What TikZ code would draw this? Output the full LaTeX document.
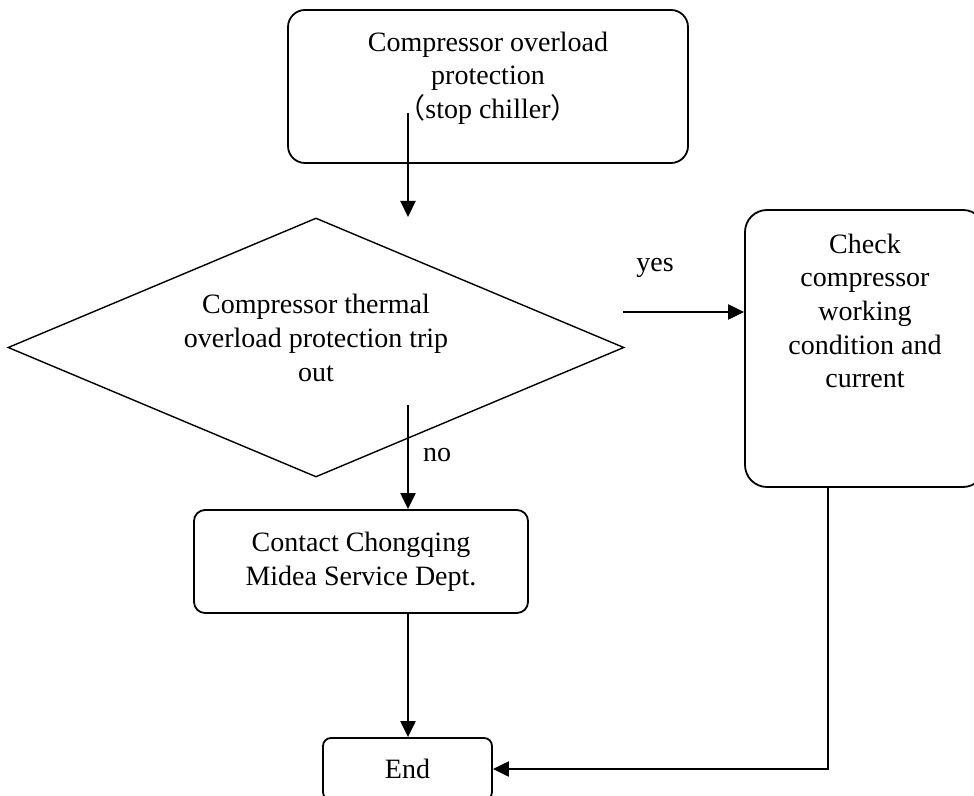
\documentclass[tikz,border=0pt]{standalone}
\usepackage{fontspec}
\setmainfont{Liberation Serif}
\newfontfamily\cjk{Noto Sans CJK SC}
\usetikzlibrary{positioning,shapes.geometric,arrows.meta,calc}

\begin{document}
\begin{tikzpicture}[
    x=0.5pt, y=-0.5pt,
    procbox/.style={draw, line width=0.9pt, inner sep=0pt},
    decbox/.style={diamond, draw, line width=0.7pt, inner sep=0pt},
    flow/.style={-{Triangle[length=8pt,width=7.5pt]}, line width=1.1pt},
    txt/.style={font=\fontsize{14}{16.8}\selectfont, align=center},
]
\useasboundingbox (0,0) rectangle (974,796);
\node[procbox, rounded corners=8.5pt, minimum width=200pt, minimum height=76.5pt] (prot) at (488,86.5) {};
\node[txt] (protlbl) at (488,78) {Compressor overload\\protection\\{\cjk （}stop chiller{\cjk ）}};
\node[decbox, minimum width=308pt, minimum height=129.5pt] (trip) at (316,347.5) {};
\node[txt] (triplbl) at (316,338) {Compressor thermal\\overload protection trip\\out};
\node[procbox, rounded corners=11pt, minimum width=120pt, minimum height=138.5pt] (check) at (865,348.5) {};
\node[txt] (checklbl) at (865,311) {Check\\compressor\\working\\condition and\\current};
\node[procbox, rounded corners=5.5pt, minimum width=167pt, minimum height=51.5pt, txt] (contact) at (361,561.5) {Contact Chongqing\\Midea Service Dept.};
\node[procbox, rounded corners=4pt, minimum width=84.5pt, minimum height=31pt, txt] (finish) at (407.5,769) {End};
\node[txt] (yeslbl) at (655,268) {yes};
\node[txt] (nolbl) at (437,455) {no};
\coordinate (protout) at (408,113);
\coordinate (tripin) at (408,217);
\coordinate (noout) at (408,405);
\coordinate (yesout) at (623,312);
\coordinate (checkout) at (828,487);
\draw[flow] (protout) -- (tripin);
\draw[flow] (yesout) -- (yesout -| check.west);
\draw[flow] (noout) -- (noout |- contact.north);
\draw[flow] (contact.south -| noout) -- (finish.north -| noout);
\draw[flow] (checkout) |- (finish.east);
\end{tikzpicture}
\end{document}
